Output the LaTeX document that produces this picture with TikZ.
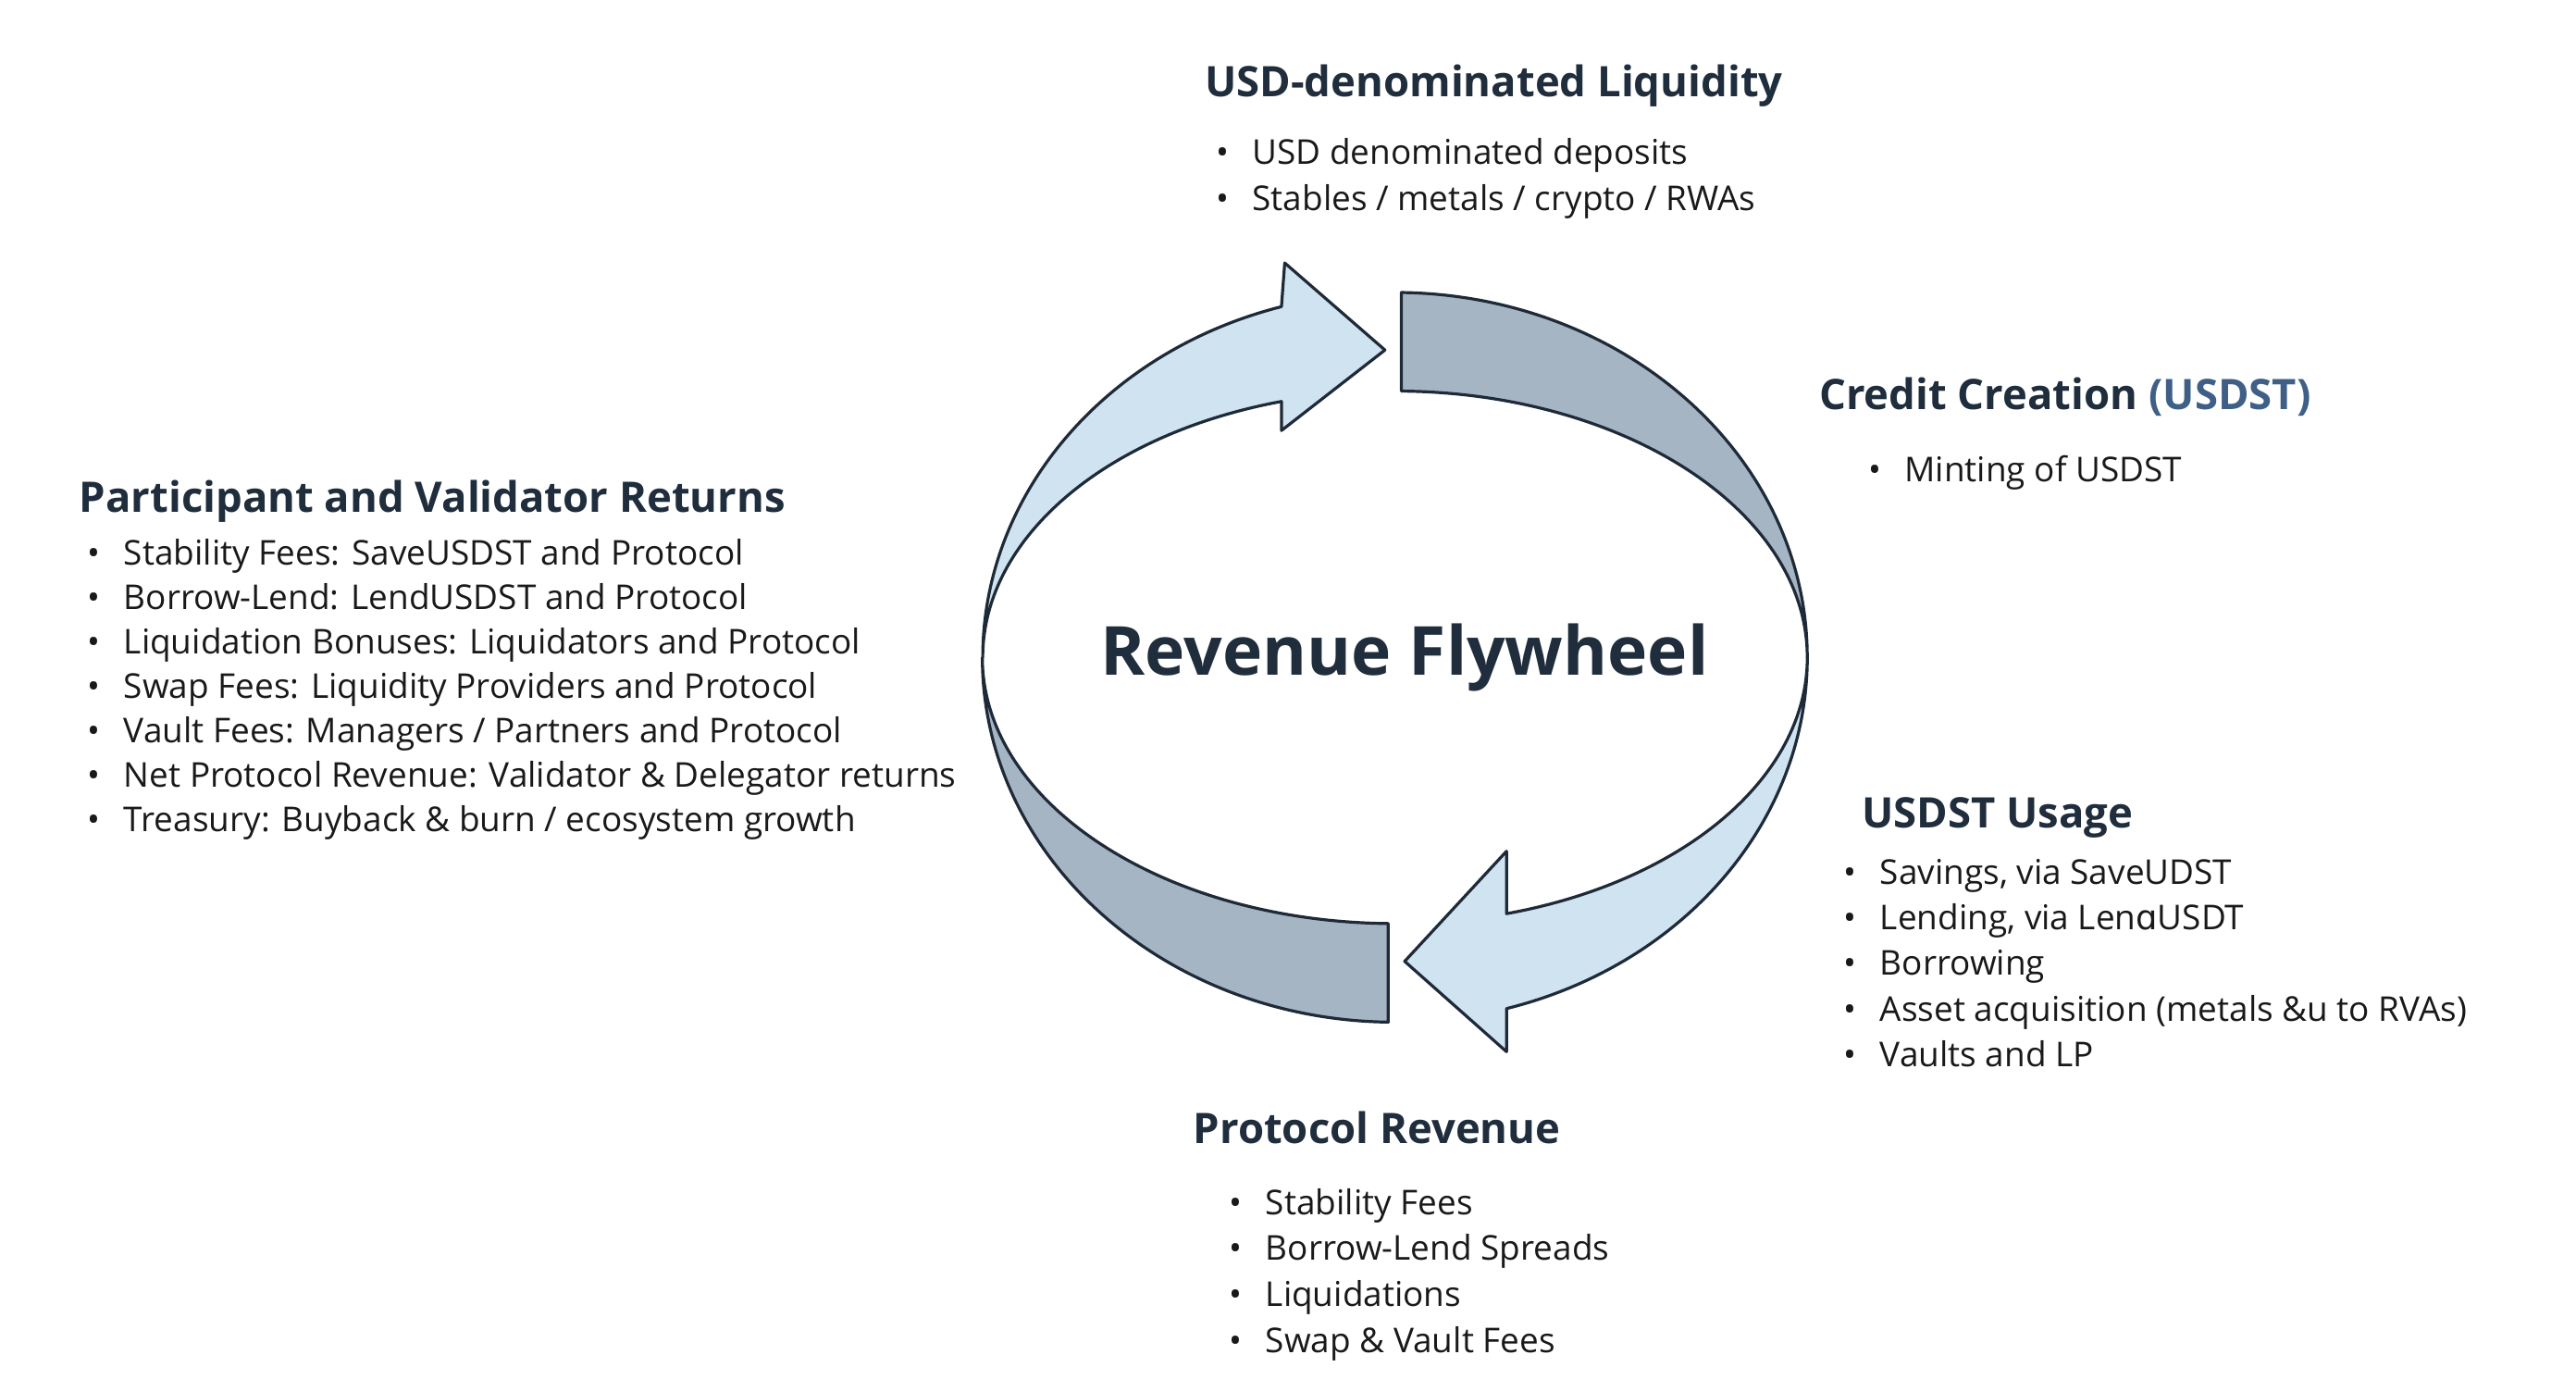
\documentclass[tikz,border=0pt]{standalone}
\usepackage{fontspec}
\setmainfont{Open Sans}
\newfontfamily\ipafont{DejaVu Sans}
\definecolor{light}{RGB}{207,227,241}
\definecolor{dark}{RGB}{166,181,196}
\definecolor{rim}{RGB}{30,42,56}
\definecolor{navy}{RGB}{31,45,61}
\definecolor{ink}{RGB}{25,25,25}
\definecolor{steel}{RGB}{63,95,134}
\tikzset{
  head/.style={anchor=base west,inner sep=0pt,text=navy,
    font=\fontsize{12.8}{15}\selectfont\bfseries},
  item/.style={anchor=base west,inner sep=0pt,text=ink,
    font=\fontsize{10.4}{13}\selectfont},
  band/.style={draw=rim,line width=0.9pt,line join=round}
}
\newcommand{\blt}{\makebox[11pt][l]{\textbullet}}
\begin{document}
\begin{tikzpicture}[x=0.5pt,y=0.5pt]
\useasboundingbox (0,0) rectangle (1568,847);

  %% wheel, dark bands
  \filldraw[band,fill=dark] (853,669)
  arc[start angle=89.1,end angle=0,x radius=251,y radius=222]
  arc[start angle=0,end angle=89.1,x radius=251,y radius=162] -- cycle;
  \filldraw[band,fill=dark] (845,225)
  arc[start angle=269.1,end angle=180,x radius=251,y radius=222]
  arc[start angle=180,end angle=269.1,x radius=251,y radius=162] -- cycle;

  %% wheel, light arrows
  \filldraw[band,fill=light] (780,602.7)
  arc[start angle=106,end angle=180,x radius=251,y radius=162]
  arc[start angle=180,end angle=106,x radius=251,y radius=222]
  -- (782,687) -- (843,634) -- (780,585) -- cycle;
  \filldraw[band,fill=light] (917,291)
  arc[start angle=285.7,end angle=360,x radius=251,y radius=162]
  arc[start angle=360,end angle=285.7,x radius=251,y radius=222]
  -- (917,207) -- (855,262) -- (917,329) -- cycle;

  \node[text=navy,font=\fontsize{20.6}{24}\selectfont\bfseries]
    (title) at (855,447) {Revenue Flywheel};

  %% USD-denominated Liquidity
  \node[head] (liq) at (733,788) {USD-denominated Liquidity};
  \foreach \t [count=\i] in {USD denominated deposits,
      Stables / metals / crypto / RWAs}
    \node[item] (liq-\i) at (740,{847-100-28*(\i-1)}) {\blt\t};

  %% Credit Creation
  \node[head] (credit) at (1107,598)
    {Credit Creation \textcolor{steel}{(USDST)}};
  \node[item] (credit-1) at (1137,554) {\blt Minting of USDST};

  %% USDST Usage
  \node[head] (usage) at (1133,343) {USDST Usage};
  \foreach \t [count=\i] in {{Savings, via SaveUDST},
      {Lending, via Len{\ipafont\symbol{"0251}}USDT},Borrowing,
      Asset acquisition (metals \&u to RVAs),Vaults and LP}
    \node[item] (usage-\i) at (1122,{847-538-27.8*(\i-1)}) {\blt\t};

  %% Protocol Revenue
  \node[head] (rev) at (726,151) {Protocol Revenue};
  \foreach \t [count=\i] in {Stability Fees,Borrow-Lend Spreads,
      Liquidations,Swap \& Vault Fees}
    \node[item] (rev-\i) at (748,{847-739-28*(\i-1)}) {\blt\t};

  %% Participant and Validator Returns
  \node[head] (ret) at (48,535) {Participant and Validator Returns};
  \foreach \t [count=\i] in {Stability Fees: SaveUSDST and Protocol,
      Borrow-Lend: LendUSDST and Protocol,
      Liquidation Bonuses: Liquidators and Protocol,
      Swap Fees: Liquidity Providers and Protocol,
      Vault Fees: Managers / Partners and Protocol,
      Net Protocol Revenue: Validator \& Delegator returns,
      Treasury: Buyback \& burn / ecosystem growth}
    \node[item] (ret-\i) at (53,{847-344-27*(\i-1)}) {\blt\t};

\end{tikzpicture}
\end{document}
